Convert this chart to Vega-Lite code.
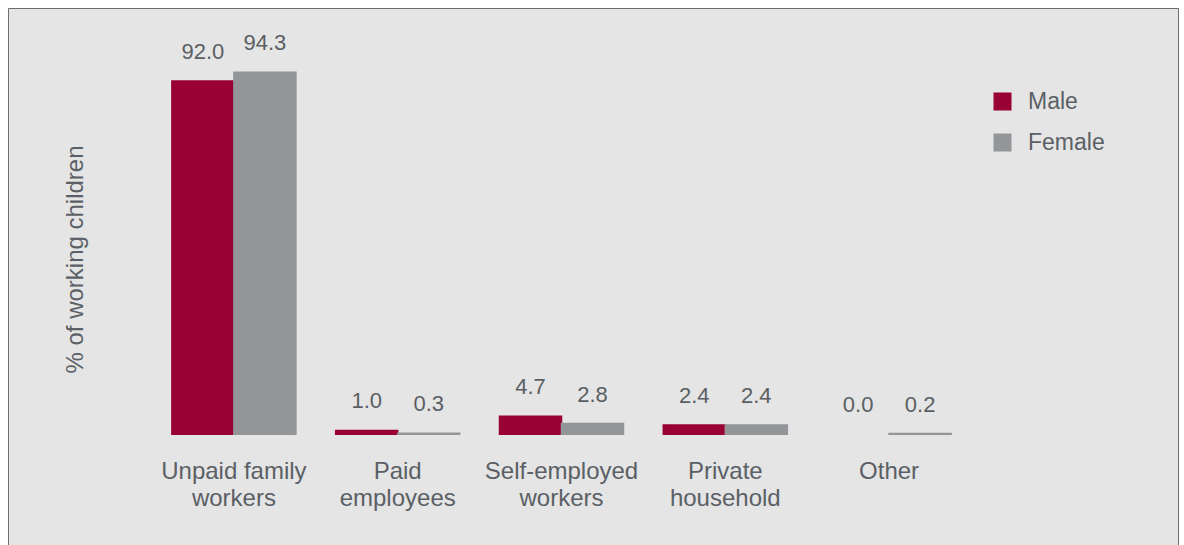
{
  "$schema": "https://vega.github.io/schema/vega-lite/v6.json",
  "autosize": "none",
  "padding": {"left": 8, "top": 8, "right": 6, "bottom": 0},
  "width": 1170,
  "height": 542,
  "background": "#ffffff",
  "config": {
    "view": {"fill": "#e4e5e4", "stroke": "#6e6e6e", "strokeWidth": 1},
    "font": "Liberation Sans",
    "text": {"color": "#5b5f63"}
  },
  "data": {
    "values": [
      {"category": "Unpaid family workers", "sex": "Male", "value": 92.0},
      {"category": "Unpaid family workers", "sex": "Female", "value": 94.3},
      {"category": "Paid employees", "sex": "Male", "value": 1.0},
      {"category": "Paid employees", "sex": "Female", "value": 0.3},
      {"category": "Self-employed workers", "sex": "Male", "value": 4.7},
      {"category": "Self-employed workers", "sex": "Female", "value": 2.8},
      {"category": "Private household", "sex": "Male", "value": 2.4},
      {"category": "Private household", "sex": "Female", "value": 2.4},
      {"category": "Other", "sex": "Male", "value": 0.0},
      {"category": "Other", "sex": "Female", "value": 0.2}
    ]
  },
  "encoding": {
    "x": {
      "field": "category",
      "type": "nominal",
      "sort": null,
      "scale": {"paddingInner": 0.243, "paddingOuter": 0.1215, "range": [144, 963]},
      "axis": {
        "title": null,
        "domain": false,
        "ticks": false,
        "labelAngle": 0,
        "labelFontSize": 24,
        "labelColor": "#5b6066",
        "labelLineHeight": 27,
        "labelBaseline": "top",
        "labelPadding": 0,
        "offset": -91,
        "labelExpr": "indexof(datum.label, ' ') < 0 ? datum.label : [slice(datum.label, 0, lastindexof(datum.label, ' ')), slice(datum.label, lastindexof(datum.label, ' ') + 1)]"
      }
    },
    "xOffset": {"field": "sex", "type": "nominal", "sort": ["Male", "Female"]},
    "y": {
      "field": "value",
      "type": "quantitative",
      "stack": null,
      "scale": {"domain": [-30.13, 111.02], "nice": false, "zero": false},
      "axis": {
        "title": "% of working children",
        "labels": false,
        "ticks": false,
        "domain": false,
        "grid": false,
        "titleFontSize": 24,
        "titleFontWeight": "normal",
        "titleColor": "#5b6066",
        "titleAngle": 270,
        "titleAlign": "center",
        "titleBaseline": "middle",
        "titleX": 67,
        "titleY": 251
      }
    }
  },
  "layer": [
    {
      "transform": [{"filter": "datum.value > 0"}],
      "mark": {"type": "bar", "strokeWidth": 1.5},
      "encoding": {
        "color": {
          "field": "sex",
          "type": "nominal",
          "sort": ["Male", "Female"],
          "scale": {"domain": ["Male", "Female"], "range": ["#990033", "#939598"]},
          "legend": {
            "title": null,
            "orient": "none",
            "legendX": 983,
            "legendY": 82,
            "symbolType": "square",
            "symbolSize": 324,
            "symbolStrokeWidth": 0,
            "labelFontSize": 23,
            "labelColor": "#5b6066",
            "labelOffset": 14,
            "rowPadding": 17
          }
        },
        "stroke": {
          "field": "sex",
          "type": "nominal",
          "scale": {"domain": ["Male", "Female"], "range": ["#990033", "#939598"]},
          "legend": null
        }
      }
    },
    {
      "mark": {"type": "text", "fontSize": 22, "baseline": "alphabetic", "dy": -22, "color": "#5b5f63"},
      "encoding": {
        "text": {"field": "value", "type": "quantitative", "format": ".1f"}
      }
    }
  ]
}
